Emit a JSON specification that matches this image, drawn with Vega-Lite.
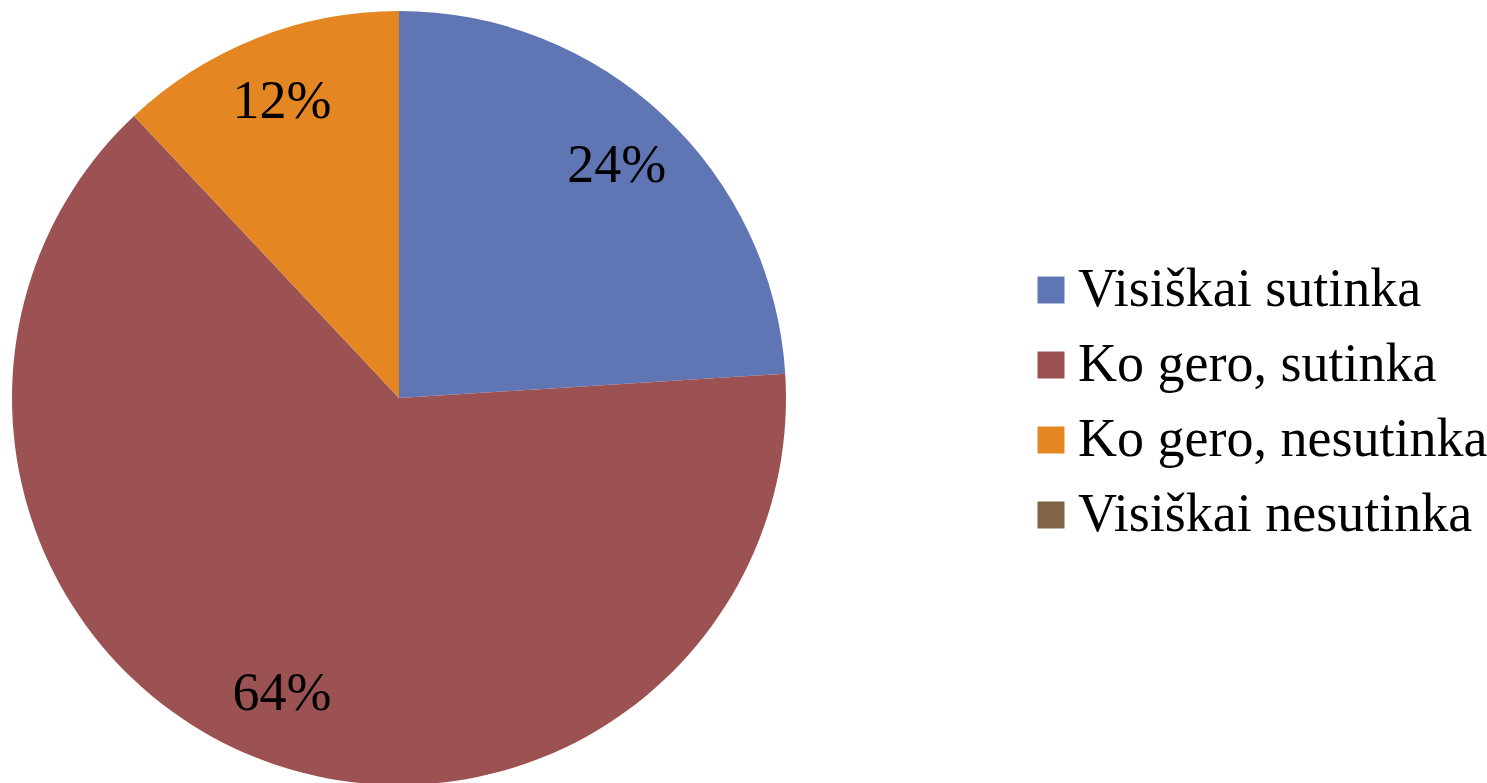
{
  "$schema": "https://vega.github.io/schema/vega-lite/v6.json",
  "autosize": {"type": "none"},
  "width": 798,
  "height": 796,
  "padding": {"left": 0, "top": 0, "right": 689, "bottom": 0},
  "background": "#ffffff",
  "view": {"stroke": null},
  "data": {
    "values": [
      {"category": "Visiškai sutinka", "value": 0.24, "idx": 1},
      {"category": "Ko gero, sutinka", "value": 0.64, "idx": 2},
      {"category": "Ko gero, nesutinka", "value": 0.12, "idx": 3},
      {"category": "Visiškai nesutinka", "value": 0.0, "idx": 4}
    ]
  },
  "encoding": {
    "theta": {"field": "value", "type": "quantitative", "stack": true},
    "order": {"field": "idx", "type": "quantitative", "sort": "ascending"},
    "color": {
      "field": "category",
      "type": "nominal",
      "sort": ["Visiškai sutinka", "Ko gero, sutinka", "Ko gero, nesutinka", "Visiškai nesutinka"],
      "scale": {
        "domain": ["Visiškai sutinka", "Ko gero, sutinka", "Ko gero, nesutinka", "Visiškai nesutinka"],
        "range": ["#6076B4", "#9C5252", "#E48622", "#7F6445"]
      },
      "legend": {
        "title": null,
        "orient": "none",
        "legendX": 1024,
        "legendY": 263,
        "padding": 0,
        "symbolType": "square",
        "symbolSize": 729,
        "symbolStrokeWidth": 0,
        "labelFont": "Liberation Serif",
        "labelFontSize": 54,
        "labelColor": "#000000",
        "labelOffset": 0,
        "labelLimit": 600,
        "rowPadding": 21
      }
    }
  },
  "layer": [
    {"mark": {"type": "arc", "outerRadius": 387, "stroke": null}},
    {
      "transform": [{"filter": "datum.value > 0"}],
      "mark": {"type": "text", "radius": 318, "font": "Liberation Serif", "fontSize": 54, "color": "#000000"},
      "encoding": {
        "text": {"field": "value", "type": "quantitative", "format": ".0%"},
        "color": {"value": "#000000"}
      }
    }
  ]
}
